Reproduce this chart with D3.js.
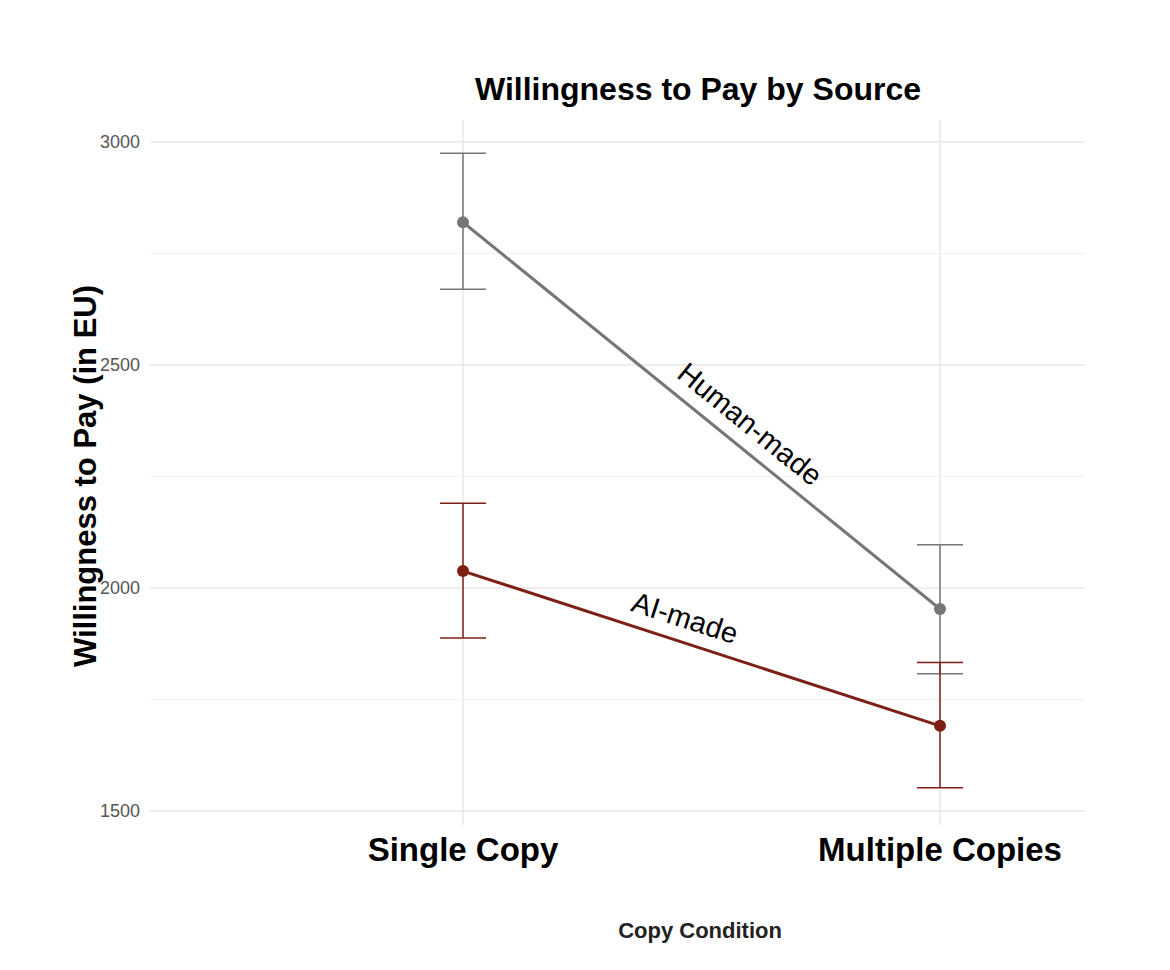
<!DOCTYPE html>
<html>
<head>
<meta charset="utf-8">
<script src="https://cdn.jsdelivr.net/npm/d3@7"></script>
<style>
  body { margin: 0; background: #fff; }
  text { font-family: "Liberation Sans", Arial, sans-serif; }
</style>
</head>
<body>
<svg width="1170" height="970"></svg>
<script>
// data
let conditions = ["Single Copy", "Multiple Copies"];
let sources = ["Human-made", "AI-made"];
let humanMean = [2820, 1953];
let humanLow = [2670, 1808];
let humanHigh = [2975, 2097];
let aiMean = [2038, 1691];
let aiLow = [1888, 1552];
let aiHigh = [2190, 1833];
let yTicks = [1500, 2000, 2500, 3000];
let yMinor = [1750, 2250, 2750];

let colors = { "Human-made": "#767676", "AI-made": "#7c1f14" };

let svg = d3.select("svg");

let panelLeft = 150, panelRight = 1085, panelTop = 120, panelBottom = 825;

let xScale = d3.scalePoint().domain(conditions).range([463, 940]);
let yScale = d3.scaleLinear().domain([1500, 3000]).range([811, 142]);

// grid
svg.selectAll(".minor").data(yMinor).enter().append("line")
  .attr("x1", panelLeft).attr("x2", panelRight)
  .attr("y1", d => yScale(d)).attr("y2", d => yScale(d))
  .attr("stroke", "#f3f3f3").attr("stroke-width", 1);
svg.selectAll(".major").data(yTicks).enter().append("line")
  .attr("x1", panelLeft).attr("x2", panelRight)
  .attr("y1", d => yScale(d)).attr("y2", d => yScale(d))
  .attr("stroke", "#e8e8e8").attr("stroke-width", 1.5);
svg.selectAll(".vgrid").data(conditions).enter().append("line")
  .attr("x1", d => xScale(d)).attr("x2", d => xScale(d))
  .attr("y1", panelTop).attr("y2", panelBottom)
  .attr("stroke", "#e8e8e8").attr("stroke-width", 1.5);

// y axis labels
svg.selectAll(".ytick").data(yTicks).enter().append("text")
  .attr("x", panelLeft - 10).attr("y", d => yScale(d) + 6)
  .attr("text-anchor", "end").attr("font-size", 18).attr("fill", "#555")
  .text(d => d);

// x tick labels
svg.selectAll(".xtick").data(conditions).enter().append("text")
  .attr("x", d => xScale(d)).attr("y", 861)
  .attr("text-anchor", "middle").attr("font-size", 33).attr("font-weight", "bold")
  .text(d => d);

let series = [
  { name: "Human-made", mean: humanMean, low: humanLow, high: humanHigh },
  { name: "AI-made", mean: aiMean, low: aiLow, high: aiHigh }
];

let line = d3.line().x((d, i) => xScale(conditions[i])).y(d => yScale(d));

series.forEach(s => {
  let c = colors[s.name];
  let g = svg.append("g");
  conditions.forEach((cond, i) => {
    let x = xScale(cond);
    g.append("line").attr("x1", x).attr("x2", x)
      .attr("y1", yScale(s.low[i])).attr("y2", yScale(s.high[i]))
      .attr("stroke", c).attr("stroke-width", 1.5);
    [s.low[i], s.high[i]].forEach(v => {
      g.append("line").attr("x1", x - 23).attr("x2", x + 23)
        .attr("y1", yScale(v)).attr("y2", yScale(v))
        .attr("stroke", c).attr("stroke-width", 1.5);
    });
  });
  g.append("path").attr("d", line(s.mean)).attr("fill", "none")
    .attr("stroke", c).attr("stroke-width", 3);
  g.selectAll("circle").data(s.mean).enter().append("circle")
    .attr("cx", (d, i) => xScale(conditions[i])).attr("cy", d => yScale(d))
    .attr("r", 6).attr("fill", c);

  // label along line
  let x0 = xScale(conditions[0]), x1 = xScale(conditions[1]);
  let y0 = yScale(s.mean[0]), y1 = yScale(s.mean[1]);
  let ang = Math.atan2(y1 - y0, x1 - x0) * 180 / Math.PI;
  let t = s.name === "Human-made" ? 0.57 : 0.45;
  let mx = x0 + (x1 - x0) * t, my = y0 + (y1 - y0) * t;
  svg.append("text")
    .attr("transform", `translate(${mx},${my}) rotate(${ang}) translate(0,-14)`)
    .attr("text-anchor", "middle").attr("font-size", 29)
    .text(s.name);
});

// titles
svg.append("text").attr("x", 698).attr("y", 100)
  .attr("text-anchor", "middle").attr("font-size", 32).attr("font-weight", "bold")
  .text("Willingness to Pay by Source");
svg.append("text").attr("transform", "translate(96,476) rotate(-90)")
  .attr("text-anchor", "middle").attr("font-size", 31).attr("font-weight", "bold")
  .text("Willingness to Pay (in EU)");
svg.append("text").attr("x", 700).attr("y", 938)
  .attr("text-anchor", "middle").attr("font-size", 22).attr("font-weight", "bold")
  .attr("fill", "#222")
  .text("Copy Condition");
</script>
</body>
</html>
